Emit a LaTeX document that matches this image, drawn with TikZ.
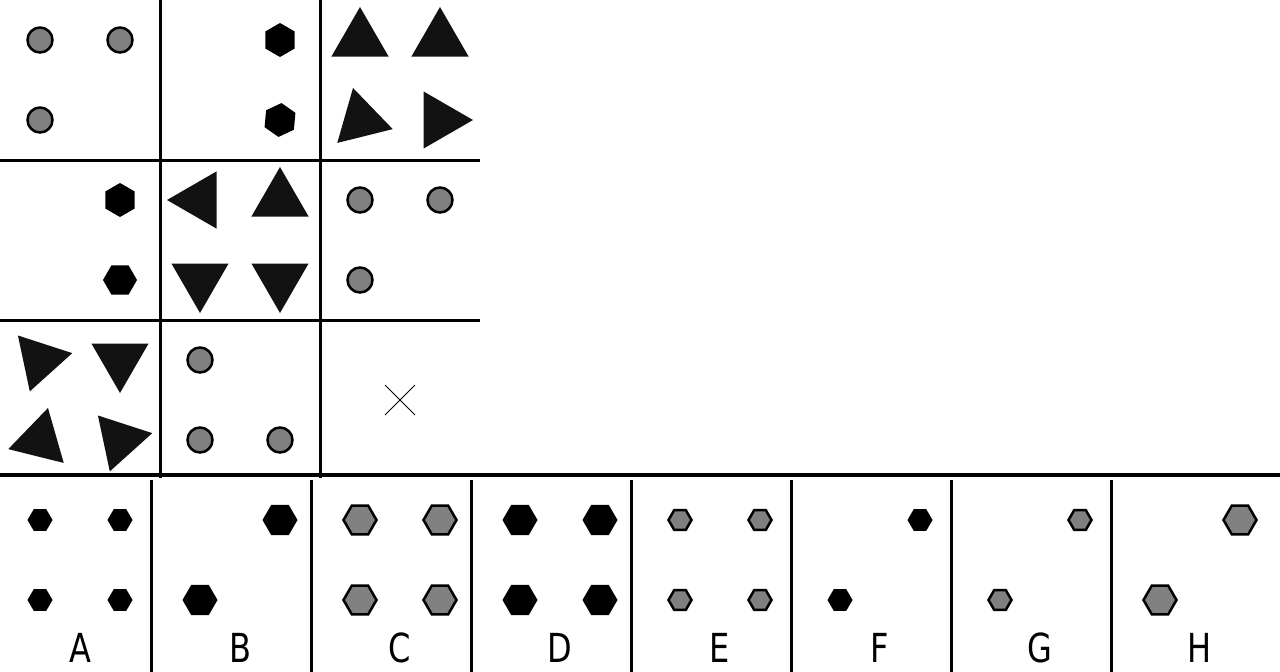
\documentclass[tikz,border=0pt]{standalone}
\usepackage{fontspec}
\setsansfont{DejaVu Sans}
\newfontfamily\letterfont[FakeStretch=0.8]{DejaVu Sans}
\usepackage{tikz}
\usetikzlibrary{shapes.geometric}

\begin{document}
\begin{tikzpicture}[x=1pt,y=-1pt,
   grid/.style={line width=3pt},
   dot/.style={circle,fill=gray,draw=black,line width=2.5pt,minimum size=25pt,inner sep=0pt},
   hex/.style={regular polygon,regular polygon sides=6,fill=black,minimum size=34pt,inner sep=0pt},
   tri/.style={regular polygon,regular polygon sides=3,fill=black!93,minimum size=66pt,inner sep=0pt},
   shex/.style={hex,minimum size=25pt},
   lhex/.style={hex,minimum size=35pt},
   ghex/.style={fill=gray,draw=black,line width=2.5pt},
   letter/.style={font=\letterfont\fontsize{40}{40}\selectfont,inner sep=0pt}]
   \useasboundingbox (0,0) rectangle (1280,672);

   % Matrix
   \begin{scope}
      \draw[grid] (160,0) -- (160,478);
      \draw[grid] (320,0) -- (320,478);
      \draw[grid] (0,160) -- (480,160);
      \draw[grid] (0,320) -- (480,320);

      % row 1
      \node[dot] (c11a) at (40,40) {};
      \node[dot] (c11b) at (120,40) {};
      \node[dot] (c11c) at (40,120) {};

      \node[hex,rotate=30] (c12a) at (280,40) {};
      \node[hex,rotate=25] (c12b) at (280,120) {};

      \node[tri] (c13a) at (360,40) {};
      \node[tri] (c13b) at (440,40) {};
      \node[tri,rotate=14] (c13c) at (361,120) {};
      \node[tri,rotate=-90] (c13d) at (440,120) {};

      % row 2
      \node[hex,rotate=30] (c21a) at (120,200) {};
      \node[hex] (c21b) at (120,280) {};

      \node[tri,rotate=90] (c22a) at (200,200) {};
      \node[tri] (c22b) at (280,200) {};
      \node[tri,rotate=180] (c22c) at (200,280) {};
      \node[tri,rotate=180] (c22d) at (280,280) {};

      \node[dot] (c23a) at (360,200) {};
      \node[dot] (c23b) at (440,200) {};
      \node[dot] (c23c) at (360,280) {};

      % row 3
      \node[tri,rotate=42] (c31a) at (40,360) {};
      \node[tri,rotate=180] (c31b) at (120,360) {};
      \node[tri,rotate=-14] (c31c) at (40,440) {};
      \node[tri,rotate=42] (c31d) at (120,440) {};

      \node[dot] (c32a) at (200,360) {};
      \node[dot] (c32b) at (200,440) {};
      \node[dot] (c32c) at (280,440) {};

      % missing cell
      \draw[line width=1pt] (385,385) -- (415,415) (385,415) -- (415,385);
   \end{scope}

   % Answers
   \begin{scope}
      \draw[line width=4pt] (0,475) -- (1280,475);
      \foreach \x in {151,311,471,631,791,951,1111}
         \draw[grid] (\x,480) -- (\x,672);

      \node[shex] (a1) at (40,520) {};
      \node[shex] (a2) at (120,520) {};
      \node[shex] (a3) at (40,600) {};
      \node[shex] (a4) at (120,600) {};
      \node[letter] (labA) at (80,648) {A};

      \node[lhex] (b1) at (280,520) {};
      \node[lhex] (b2) at (200,600) {};
      \node[letter] (labB) at (240,648) {B};

      \node[lhex,ghex,minimum size=33pt] (cc1) at (360,520) {};
      \node[lhex,ghex,minimum size=33pt] (cc2) at (440,520) {};
      \node[lhex,ghex,minimum size=33pt] (cc3) at (360,600) {};
      \node[lhex,ghex,minimum size=33pt] (cc4) at (440,600) {};
      \node[letter] (labC) at (400,648) {C};

      \node[lhex] (d1) at (520,520) {};
      \node[lhex] (d2) at (600,520) {};
      \node[lhex] (d3) at (520,600) {};
      \node[lhex] (d4) at (600,600) {};
      \node[letter] (labD) at (560,648) {D};

      \node[shex,ghex,minimum size=23pt] (e1) at (680,520) {};
      \node[shex,ghex,minimum size=23pt] (e2) at (760,520) {};
      \node[shex,ghex,minimum size=23pt] (e3) at (680,600) {};
      \node[shex,ghex,minimum size=23pt] (e4) at (760,600) {};
      \node[letter] (labE) at (720,648) {E};

      \node[shex] (f1) at (920,520) {};
      \node[shex] (f2) at (840,600) {};
      \node[letter] (labF) at (880,648) {F};

      \node[shex,ghex,minimum size=23pt] (g1) at (1080,520) {};
      \node[shex,ghex,minimum size=23pt] (g2) at (1000,600) {};
      \node[letter] (labG) at (1040,648) {G};

      \node[lhex,ghex,minimum size=33pt] (h1) at (1240,520) {};
      \node[lhex,ghex,minimum size=33pt] (h2) at (1160,600) {};
      \node[letter] (labH) at (1200,648) {H};
   \end{scope}
\end{tikzpicture}
\end{document}
